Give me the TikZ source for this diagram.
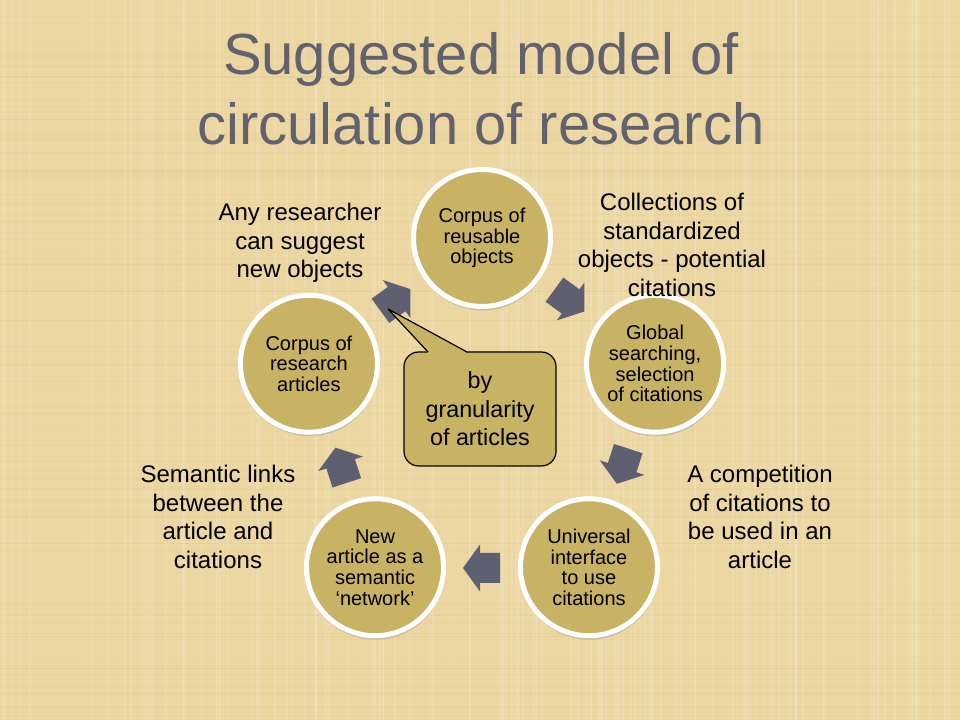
\documentclass[tikz,border=0pt]{standalone}
\usepackage{fontspec}
\setmainfont{Liberation Sans}
\usetikzlibrary{calc,shadows}
\definecolor{paper}{RGB}{236,215,162}
\definecolor{weave}{RGB}{214,190,130}
\definecolor{gold}{RGB}{200,178,100}
\definecolor{slate}{RGB}{94,95,112}
\definecolor{titlegray}{RGB}{98,98,110}
\tikzset{
 bubble/.style={circle, draw=white, line width=3.75pt, fill=gold, minimum size=102.75pt, inner sep=0pt, align=center,
  font=\fontsize{15}{15.5}\selectfont, drop shadow={opacity=0.3, shadow xshift=0.5pt, shadow yshift=-3pt}},
 note/.style={align=center, font=\fontsize{18}{21.4}\selectfont},
 bubbletalk/.style={draw=black, line width=0.9pt, fill=gold, rounded corners=11pt, minimum width=114pt, minimum height=85.5pt,
  align=center, font=\fontsize{17.5}{21.4}\selectfont}
}
\begin{document}
\begin{tikzpicture}[x=0.75pt, y=0.75pt, line join=round]
% nền
\fill[paper] (0,0) rectangle (960,720);
\useasboundingbox (0,0) rectangle (960,720);
% vân giấy
\pgfmathsetseed{11}
\foreach \i in {1,...,140}{
 \pgfmathsetmacro\xx{480+480*rand}
 \pgfmathsetmacro\yy{360+360*rand}
 \draw[white, opacity=0.12, line width=1.2pt] (\xx,0) -- (\xx,720);
 \draw[weave, opacity=0.12, line width=1pt] (0,\yy) -- (960,\yy);
}
% tiêu đề
\node[text=titlegray, align=center, font=\fontsize{43.5}{52.5}\selectfont] (title) at (481,631) {Suggested model of\\circulation of research};
\coordinate (O) at (482,300); %tâm vòng
% các mũi tên
\foreach \a in {54,-18,-90,-162,126}
\fill[slate, shift={($(O)+(\a:148)$)}, rotate=\a-90] (-18,-15) -- (2,-15) -- (2,-23.5) -- (19,0) -- (2,23.5) -- (2,15) -- (-18,15) -- cycle;
% các vòng tròn
\node[bubble] (corpus) at ($(O)+(90:182)$) {Corpus of\\reusable\\objects};
\node[bubble] (search) at ($(O)+(18:182)$) {Global\\searching,\\selection\\of citations};
\node[bubble] (iface) at ($(O)+(-54:182)$) {Universal\\interface\\to use\\citations};
\node[bubble] (newart) at ($(O)+(-126:182)$) {New\\article as a\\semantic\\`network'};
\node[bubble] (articles) at ($(O)+(162:182)$) {Corpus of\\research\\articles};
% chú thích
\node[note] (anyres) at (300,477) {Any researcher\\can suggest\\new objects};
\node[note] (collect) at (672,475) {Collections of\\standardized\\objects - potential\\citations};
\node[note] (semlinks) at (218,203) {Semantic links\\between the\\article and\\citations};
\node[note] (compet) at (760,203) {A competition\\of citations to\\be used in an\\article};
% hộp lời thoại
\node[bubbletalk] (gran) at (480,311) {by\\granularity\\of articles};
\coordinate (tip) at (388,411);
\fill[gold] ($(gran.north)+(-52,-1.5)$) -- (tip) -- ($(gran.north)+(-13,-1.5)$) -- cycle;
\draw[line width=0.9pt] ($(gran.north)+(-52,-0.6)$) -- (tip) -- ($(gran.north)+(-13,-0.6)$);
\end{tikzpicture}
\end{document}
